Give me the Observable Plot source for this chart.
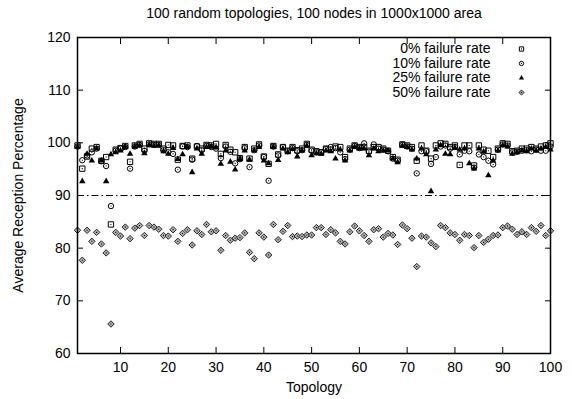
<!DOCTYPE html>
<html><head><meta charset="utf-8">
<script src="https://cdn.jsdelivr.net/npm/d3@7"></script>
<script src="https://cdn.jsdelivr.net/npm/@observablehq/plot@0.6"></script>
<style>body{margin:0;background:#fff}</style>
</head><body><div id="chart"></div>
<script>
const title = "100 random topologies, 100 nodes in 1000x1000 area";
const xLabel = "Topology";
const yLabel = "Average Reception Percentage";
const xTicks = [10, 20, 30, 40, 50, 60, 70, 80, 90, 100];
const yTicks = [60, 70, 80, 90, 100, 110, 120];
const threshold = [90];
const seriesNames = ["0% failure rate", "10% failure rate", "25% failure rate", "50% failure rate"];

const rate0 = [99.5,95.1,97.4,98.9,99.2,96.6,97.3,84.5,98.7,99.0,
  99.4,96.4,99.5,99.8,98.9,99.9,99.8,99.8,98.9,99.6,
  99.5,96.8,99.4,99.5,97.0,99.3,98.9,99.6,99.5,99.8,
  97.9,99.6,98.7,98.2,97.1,99.2,97.0,98.9,99.7,97.4,
  96.0,99.4,97.8,99.2,98.5,99.2,98.6,98.9,99.8,98.7,
  98.4,98.2,98.9,98.7,99.3,99.2,97.3,98.9,99.5,99.2,
  99.2,98.5,99.2,99.2,98.9,98.5,97.3,96.8,99.7,99.5,
  99.2,96.6,99.5,98.5,97.0,99.5,99.9,99.8,99.2,99.5,
  95.8,99.5,99.5,95.7,99.5,98.7,98.5,97.3,98.9,99.9,
  99.8,98.4,98.5,98.9,98.9,99.2,98.9,99.3,99.5,99.9];
const rate10 = [99.3,96.7,97.6,98.2,98.9,96.5,95.6,88.0,98.5,98.9,
  99.2,95.1,99.3,99.6,98.5,99.7,99.6,99.6,98.6,98.2,
  97.9,94.9,99.3,99.2,96.8,99.4,98.6,99.4,99.2,98.9,
  97.1,99.3,98.3,96.1,96.9,99.0,95.4,98.6,99.5,97.3,
  92.8,99.3,97.6,99.2,98.4,99.0,98.4,98.6,99.6,98.5,
  98.2,98.2,98.8,99.2,99.0,98.2,96.9,98.7,99.4,99.0,
  99.9,98.3,99.7,98.9,98.7,98.4,97.0,96.6,99.6,99.3,
  98.9,94.2,98.4,98.4,96.0,97.3,99.3,99.5,98.9,99.2,
  97.8,98.5,98.4,95.3,97.8,97.3,96.6,95.9,98.7,99.7,
  99.5,98.2,98.3,98.5,98.6,98.4,98.7,98.5,98.5,99.3];
const rate25 = [99.2,92.7,97.9,96.6,98.9,96.6,92.7,97.8,98.2,98.5,
  99.2,97.9,99.3,99.5,98.0,99.6,99.4,99.5,98.4,97.9,
  99.0,96.9,97.8,99.2,94.4,98.9,97.9,99.2,99.3,99.1,
  96.0,98.5,96.4,94.9,96.9,98.5,96.8,98.5,99.2,96.6,
  96.1,99.2,96.7,98.9,98.2,98.8,97.4,98.5,99.4,97.6,
  98.0,97.9,98.5,98.4,97.0,98.7,96.6,98.5,99.2,98.9,
  98.9,97.6,98.9,98.4,98.5,98.5,97.0,96.3,99.4,99.2,
  98.7,97.0,98.9,97.8,90.8,98.7,99.5,97.9,97.8,99.0,
  98.7,98.9,96.1,95.1,98.9,98.3,93.8,96.6,98.5,99.5,
  99.3,97.9,98.2,98.5,98.4,98.9,98.5,98.9,99.2,98.7];
const rate50 = [83.4,77.7,83.4,81.3,83.0,80.8,79.1,65.6,83.0,82.3,
  84.0,81.8,83.8,84.3,82.4,84.3,84.0,83.6,82.4,82.3,
  83.5,81.3,82.8,83.5,80.6,83.3,82.6,84.5,83.1,83.3,
  79.6,82.4,81.5,81.9,82.0,82.9,79.2,78.0,82.9,82.1,
  78.7,84.5,81.6,83.2,84.3,82.2,82.3,82.2,82.5,82.5,
  83.9,83.9,82.6,83.5,82.9,81.3,80.8,83.1,84.2,83.3,
  82.4,81.3,83.5,83.7,82.1,82.8,82.5,80.7,84.4,83.7,
  81.9,76.5,82.3,82.1,81.0,80.3,84.3,83.9,82.9,82.6,
  81.5,82.6,82.4,80.1,82.4,81.1,81.7,82.4,82.5,83.9,
  84.2,83.6,82.6,83.1,82.6,83.9,83.2,84.3,82.4,83.3];

const toRows = (vals) => vals.map((v, i) => ({topology: i + 1, value: v}));
const datasets = [toRows(rate0), toRows(rate10), toRows(rate25), toRows(rate50)];

const font = "'Liberation Sans', Arial, Helvetica, sans-serif";
const FS = 14;

const styles = [
  {symbol: "square", r: 3, fill: "none", stroke: "black", strokeWidth: 1, center: true},
  {symbol: "circle", r: 2.7, fill: "none", stroke: "black", strokeWidth: 1, center: true},
  {symbol: "triangle", r: 2.4, fill: "black", stroke: "none", center: false},
  {symbol: "diamond2", r: 2.9, fill: "#b0b0b0", stroke: "#222", strokeWidth: 1, center: true}
];

const marks = [
  Plot.ruleY(threshold, {stroke: "black", strokeWidth: 1, strokeDasharray: "7,3,1.5,3"}),
];
datasets.forEach((d, k) => {
  const s = styles[k];
  marks.push(Plot.dot(d, {x: "topology", y: "value", symbol: s.symbol, r: s.r, fill: s.fill, stroke: s.stroke, strokeWidth: s.strokeWidth}));
  if (s.center) marks.push(Plot.dot(d, {x: "topology", y: "value", symbol: "square", r: 0.6, fill: "black", stroke: "none"}));
});
// legend
seriesNames.forEach((name, k) => {
  const s = styles[k];
  const dy = 11.5 + 14.5 * k;
  marks.push(Plot.text([name], {frameAnchor: "top-right", dx: -60, dy, text: d => d, textAnchor: "end", lineAnchor: "middle", fontSize: FS}));
  marks.push(Plot.dot([name], {frameAnchor: "top-right", dx: -29, dy, symbol: s.symbol, r: s.r * 0.8, fill: s.fill, stroke: s.stroke, strokeWidth: s.strokeWidth}));
  if (s.center) marks.push(Plot.dot([name], {frameAnchor: "top-right", dx: -29, dy, symbol: "square", r: 0.6, fill: "black", stroke: "none"}));
});
marks.push(
  Plot.axisX(xTicks, {anchor: "bottom", tickSize: -6, tickPadding: 15, label: null, fontSize: FS}),
  Plot.axisX(xTicks, {anchor: "top", tickSize: -6, tickFormat: () => "", label: null}),
  Plot.axisY(yTicks, {anchor: "left", tickSize: -6, tickPadding: 13, label: null, fontSize: FS}),
  Plot.axisY(yTicks, {anchor: "right", tickSize: -6, tickFormat: () => "", label: null}),
  Plot.frame({stroke: "black", strokeWidth: 1.5}),
  Plot.text([title], {frameAnchor: "top", dy: -24, text: d => d, textAnchor: "middle", lineAnchor: "middle", fontSize: FS}),
  Plot.text([xLabel], {frameAnchor: "bottom", dy: 34, text: d => d, textAnchor: "middle", lineAnchor: "middle", fontSize: FS}),
  Plot.text([yLabel], {frameAnchor: "left", dx: -59, rotate: -90, text: d => d, textAnchor: "middle", lineAnchor: "middle", fontSize: FS})
);

const chart = Plot.plot({
  width: 572,
  height: 399,
  marginLeft: 77,
  marginRight: 22,
  marginTop: 37,
  marginBottom: 46,
  style: {fontFamily: font, fontSize: FS + "px", color: "black", background: "white"},
  x: {domain: [1, 100]},
  y: {domain: [60, 120]},
  marks
});
document.getElementById("chart").append(chart);
</script>
</body></html>
